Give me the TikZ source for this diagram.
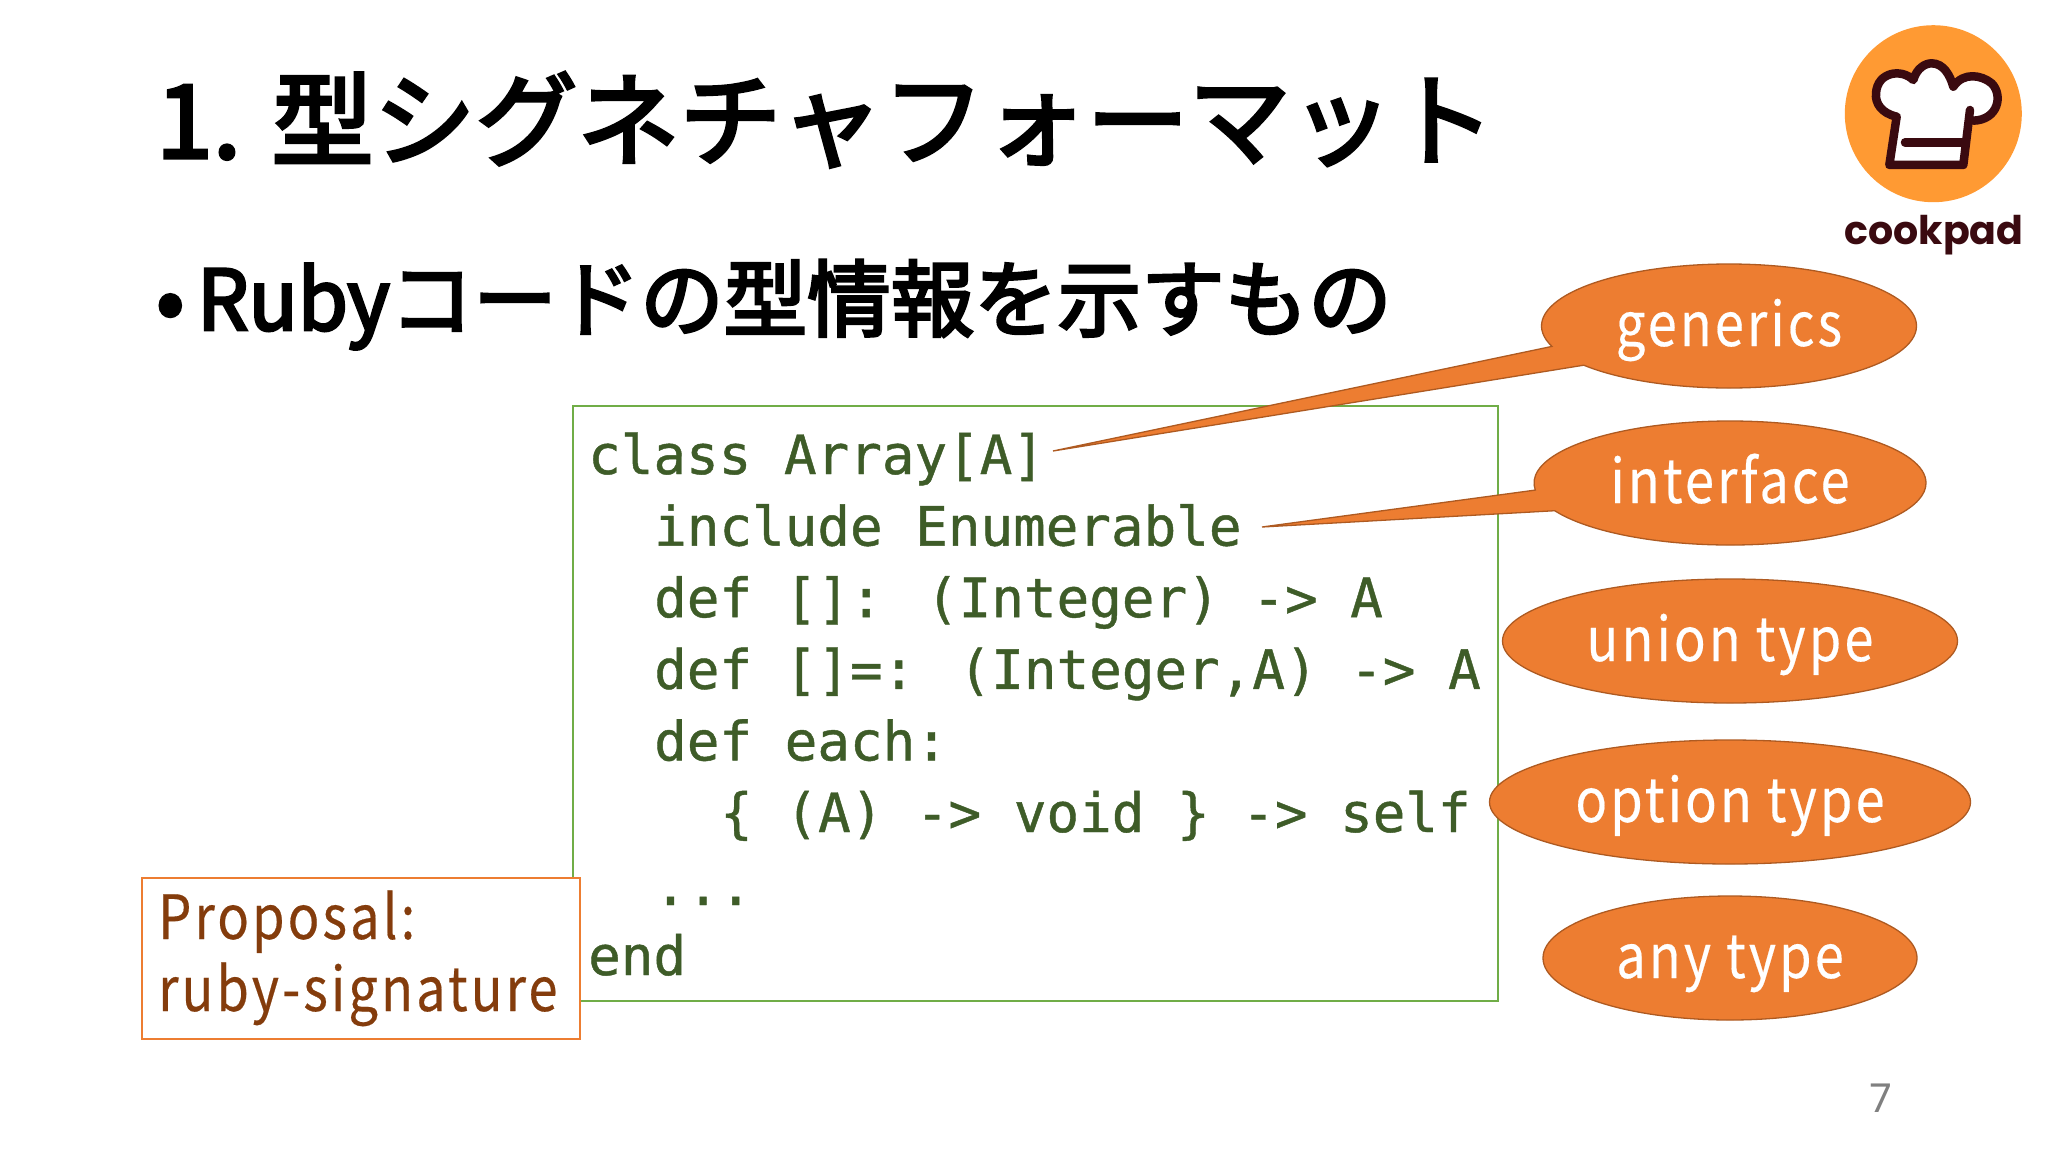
\documentclass[tikz,border=0pt]{standalone}
\usepackage{fontspec}
\usetikzlibrary{shapes.callouts,shapes.geometric}
\newfontfamily\jpfont[FakeBold=3.4]{Noto Sans CJK JP}
\newfontfamily\jpnarrow[FakeStretch=0.97,FakeBold=3.4]{Noto Sans CJK JP}
\newfontfamily\labelfont[FakeStretch=0.86,LetterSpace=5,FakeBold=0.3]{Noto Sans CJK JP}
\newfontfamily\codefont[FakeBold=0.8]{DejaVu Sans Mono}
\newfontfamily\logofont{Poppins}
\newfontfamily\pagefont{Noto Sans}
\definecolor{codegreen}{HTML}{3E5C28}
\definecolor{boxgreen}{HTML}{70AD47}
\definecolor{accent}{HTML}{ED7D31}
\definecolor{accentdark}{HTML}{AE5A21}
\definecolor{propbrown}{HTML}{843C0C}
\definecolor{logoorange}{HTML}{FF9A33}
\definecolor{logodark}{HTML}{3A0A10}
\tikzset{
  codeline/.style={anchor=base west,inner sep=0pt,text=codegreen,font=\codefont\fontsize{54.2}{54}\selectfont},
  bubble/.style={ellipse callout,draw=accentdark,fill=accent,line width=1.3pt,inner sep=0pt,minimum height=124pt,text=white,text height=52pt,text depth=12pt,font=\labelfont\fontsize{61}{61}\selectfont},
  plainbubble/.style={ellipse,draw=accentdark,fill=accent,line width=1.3pt,inner sep=0pt,minimum height=124pt,text=white,text height=52pt,text depth=12pt,font=\labelfont\fontsize{61}{61}\selectfont},
  hatline/.style={draw=logodark,line width=8.5pt,line cap=round,line join=round}
}
\begin{document}
\begin{tikzpicture}[x=1pt,y=-1pt]
\useasboundingbox (0,0) rectangle (2048,1152);
\fill[white] (0,0) rectangle (2048,1152);
% title and bullet
\node[anchor=base west,inner sep=0pt,font=\jpfont\fontsize{102}{102}\selectfont] (title) at (156,158) {1. 型シグネチャフォーマット};
\node[anchor=base west,inner sep=0pt,font=\jpfont\fontsize{83}{83}\selectfont] (bullet) at (156,330) {•};
\node[anchor=base west,inner sep=0pt,font=\jpfont\fontsize{83.5}{84}\selectfont] (lead) at (197,330) {\jpnarrow Ruby\jpfont コードの型情報を示すもの};
% code frame
\node[draw=boxgreen,line width=2pt,inner sep=0pt,minimum width=925pt,minimum height=595pt,anchor=north west] (frame) at (572,405) {};
\node[codeline] (l1) at (588,474) {class Array[A]};
\node[codeline] (l2) at (654,545.6) {include Enumerable};
\node[codeline] (l3) at (654,617.2) {def []: (Integer) -> A};
\node[codeline] (l4) at (654,688.8) {def []=: (Integer,A) -> A};
\node[codeline] (l5) at (654,760.4) {def each:};
\node[codeline] (l6) at (720,832) {\{ (A) -> void \} -> self};
\node[codeline] (l7) at (654,905) {...};
\node[codeline] (l8) at (588,975) {end};
% proposal
\node[draw=accent,fill=white,line width=2pt,minimum width=438pt,minimum height=161pt,inner sep=0pt,anchor=north west] (prop) at (141,877) {};
\node[anchor=base west,inner sep=0pt,text=propbrown,font=\labelfont\fontsize{61}{61}\selectfont] (p1) at (158,939) {Proposal:};
\node[anchor=base west,inner sep=0pt,text=propbrown,font=\labelfont\fontsize{61}{61}\selectfont] (p2) at (158,1011) {ruby-signature};
% callouts
\coordinate (tipA) at (1053,451);
\coordinate (tipB) at (1262,527);
\node[bubble,minimum width=375pt,callout absolute pointer={(tipA)},callout pointer arc=20] (generics) at (1729,326) {generics};
\node[bubble,minimum width=392pt,callout absolute pointer={(tipB)},callout pointer arc=20] (interface) at (1730,483) {interface};
\node[plainbubble,minimum width=455pt] (union) at (1730,641) {union type};
\node[plainbubble,minimum width=481pt] (option) at (1730,802) {option type};
\node[plainbubble,minimum width=374pt] (any) at (1730,958) {any type};
% page number
\node[anchor=base,inner sep=0pt,text=black!50,font=\pagefont\fontsize{40}{40}\selectfont] (page) at (1881,1112) {7};
% logo
\node[circle,fill=logoorange,minimum size=177pt,inner sep=0pt] (logo) at (1933.3,113.7) {};
\begin{scope}[shift={(1750,0)},x=0.3333pt,y=-0.3333pt]
\filldraw[hatline,fill=white] (660,330) -- (640,495) -- (418,495) -- (440,350)
  .. controls (395,340) and (375,310) .. (378,280)
  .. controls (382,215) and (455,205) .. (490,240)
  .. controls (500,205) and (525,190) .. (545,190)
  .. controls (580,190) and (600,225) .. (610,260)
  .. controls (640,215) and (695,225) .. (725,250)
  .. controls (760,285) and (745,360) .. (670,362);
\draw[hatline] (465,427) -- (640,427);
\end{scope}
\node[anchor=base,inner sep=0pt,text=logodark,font=\logofont\bfseries\fontsize{39.5}{40}\selectfont] (cook) at (1934,244) {cookpad};
\end{tikzpicture}
\end{document}
